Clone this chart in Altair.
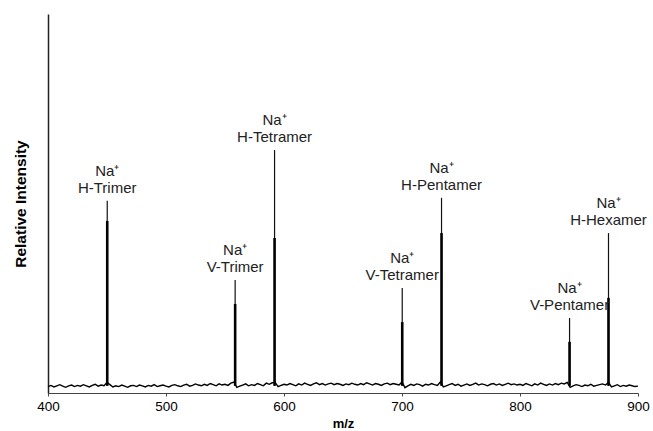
import altair as alt
import pandas as pd

# Baseline noise sampled every 2.5 m/z units (400..900)
baseline_mz = [400 + 2.5 * i for i in range(201)]
baseline_val = [
    1.7, 2.0, 1.6, 1.9, 2.2, 1.8, 1.5, 1.9, 2.1, 1.7,
    2.0, 1.8, 2.2, 1.9, 1.6, 2.0, 2.3, 1.8, 2.1, 1.9,
    2.8, 2.2, 1.6, 1.9, 1.7, 2.1, 1.8, 1.5, 1.9, 2.0,
    1.7, 2.1, 1.9, 1.6, 2.0, 1.8, 2.2, 1.7, 1.9, 2.1,
    1.8, 1.6, 2.0, 2.2, 1.9, 1.7, 2.1, 2.3, 1.8, 2.0,
    2.4, 2.1, 1.9, 2.3, 2.0, 2.5, 2.2, 1.9, 2.4, 2.1,
    2.3, 2.0, 2.6, 2.9, 1.5, 1.8, 2.1, 2.4, 1.9, 2.2,
    2.0, 2.5, 2.2, 1.9, 2.6, 2.3, 2.7, 2.8, 1.7, 2.0,
    2.3, 2.1, 2.5, 2.2, 1.9, 2.4, 2.1, 2.6, 2.3, 2.0,
    2.4, 2.7, 2.2, 2.5, 2.1, 2.4, 2.6, 2.2, 2.5, 2.3,
    2.0, 2.4, 2.2, 2.6, 2.3, 2.1, 2.5, 2.2, 2.7, 2.4,
    2.1, 2.5, 2.3, 2.0, 2.4, 2.6, 2.2, 2.5, 2.3, 2.1,
    2.9, 1.4, 1.9, 2.3, 2.0, 2.4, 2.2, 1.8, 2.3, 2.1,
    2.5, 2.2, 2.0, 2.9, 1.6, 1.9, 2.2, 2.5, 2.0, 2.3,
    1.8, 2.1, 2.4, 2.0, 2.3, 2.6, 2.1, 2.4, 2.2, 1.9,
    2.3, 2.5, 2.1, 2.4, 2.0, 2.3, 2.6, 2.2, 2.4, 2.1,
    2.3, 2.0, 2.5, 2.2, 1.9, 2.4, 2.1, 2.6, 2.3, 2.0,
    2.4, 2.1, 2.5, 2.2, 2.6, 2.4, 2.8, 1.5, 1.9, 2.2,
    2.0, 1.7, 2.1, 1.9, 2.3, 1.8, 2.0, 2.2, 2.4, 2.1,
    2.8, 1.6, 1.9, 2.2, 1.7, 2.0, 1.8, 2.1, 1.9, 1.7,
    1.8,
]

# Peaks
peak_mz = [450.2, 558.6, 592.0, 700.2, 733.5, 842.0, 875.0]
peak_top = [50.7, 29.8, 64.1, 27.7, 51.5, 19.8, 42.2]
peak_body = [45.4, 23.5, 40.9, 18.7, 42.2, 13.5, 25.1]
peak_base = [1.9, 1.9, 1.9, 1.9, 1.9, 1.9, 1.9]
peak_name = ["H-Trimer", "V-Trimer", "H-Tetramer", "V-Tetramer",
             "H-Pentamer", "V-Pentamer", "H-Hexamer"]
ion_label = ["Na⁺"] * 7

x_ticks = [400, 500, 600, 700, 800, 900]

base_df = pd.DataFrame({"mz": baseline_mz, "val": baseline_val})
peak_df = pd.DataFrame({
    "mz": peak_mz, "top": peak_top, "body": peak_body, "base": peak_base,
    "name": peak_name, "ion": ion_label,
})

FONT = "Liberation Sans"

xscale = alt.Scale(domain=[400, 900], nice=False, zero=False)
yscale = alt.Scale(domain=[0, 100], nice=False, zero=True)

xaxis = alt.Axis(
    values=x_ticks, title="m/z", grid=False, tickSize=3, labelPadding=3,
    labelFont=FONT, labelFontSize=13.5, labelColor="#000", labelFlush=False,
    labelOverlap=False, domainColor="#444", tickColor="#444",
    titleFont=FONT, titleFontSize=13, titleFontWeight="bold", titleColor="#000",
    titlePadding=5,
)
yaxis = alt.Axis(
    title="Relative Intensity", grid=False, ticks=False, labels=False,
    domainColor="#222", domainWidth=1.5,
    titleFont=FONT, titleFontSize=15.5, titleFontWeight="bold", titleColor="#000",
    titlePadding=20,
)

base_line = alt.Chart(base_df).mark_line(color="#000", strokeWidth=1.4).encode(
    x=alt.X("mz:Q", scale=xscale, axis=xaxis),
    y=alt.Y("val:Q", scale=yscale, axis=yaxis),
)

thin = alt.Chart(peak_df).mark_rule(color="#111", strokeWidth=1.2).encode(
    x=alt.X("mz:Q", scale=xscale),
    y=alt.Y("top:Q", scale=yscale),
    y2="base:Q",
)
thick = alt.Chart(peak_df).mark_rule(color="#000", strokeWidth=2.6).encode(
    x=alt.X("mz:Q", scale=xscale),
    y=alt.Y("body:Q", scale=yscale),
    y2="base:Q",
)

name_text = alt.Chart(peak_df).mark_text(
    font=FONT, fontSize=15, color="#222", baseline="alphabetic", align="center", dy=-8,
).encode(
    x=alt.X("mz:Q", scale=xscale),
    y=alt.Y("top:Q", scale=yscale),
    text="name:N",
)
ion_text = alt.Chart(peak_df).mark_text(
    font=FONT, fontSize=15, color="#222", baseline="alphabetic", align="center", dy=-25,
).encode(
    x=alt.X("mz:Q", scale=xscale),
    y=alt.Y("top:Q", scale=yscale),
    text="ion:N",
)

chart = alt.layer(base_line, thin, thick, name_text, ion_text).properties(
    width=590, height=379,
    autosize=alt.AutoSizeParams(type="none"),
    padding={"left": 48, "top": 14, "right": 15, "bottom": 38},
    background="white",
).configure_view(stroke=None)

chart.save("out.html", embed_options={"renderer": "svg", "actions": False})
